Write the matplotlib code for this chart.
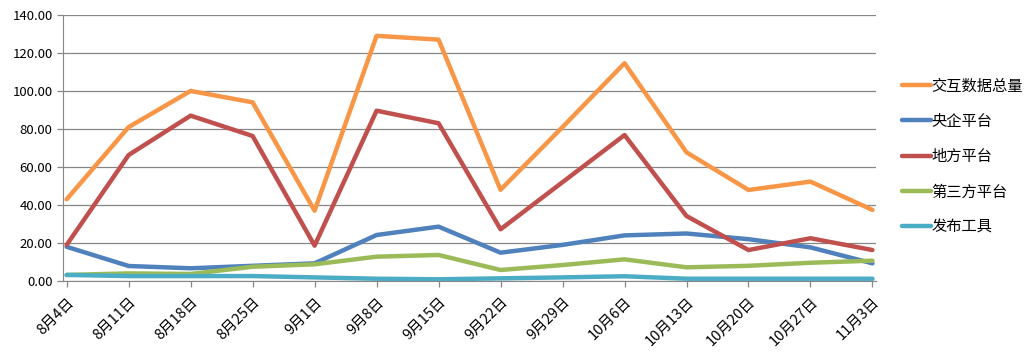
import matplotlib
matplotlib.use("Agg")
import matplotlib.pyplot as plt

plt.rcParams['font.family'] = ['Noto Sans CJK SC', 'DejaVu Sans']

weeks = ['8月4日', '8月11日', '8月18日', '8月25日', '9月1日', '9月8日', '9月15日',
         '9月22日', '9月29日', '10月6日', '10月13日', '10月20日', '10月27日', '11月3日']

total = [43, 81, 100, 94, 37, 129, 127, 48, 81, 114.6, 67.7, 47.9, 52.3, 37.4]
central = [18, 7.9, 6.7, 8, 9.3, 24.2, 28.6, 14.9, 19, 24, 25, 22, 17.7, 9.3]
local = [19, 66.3, 87, 76.3, 18.6, 89.6, 83, 27.2, 52, 76.8, 34.2, 16.3, 22.5, 16.3]
third = [3.2, 4, 3.7, 7.5, 8.8, 12.8, 13.7, 5.8, 8.4, 11.4, 7.2, 8, 9.6, 10.7]
tools = [3.2, 2.6, 2.6, 2.6, 1.9, 1.2, 0.9, 1.4, 1.9, 2.5, 1.2, 1.2, 1.2, 1.2]

series = [
    ('交互数据总量', total, '#F79646'),
    ('央企平台', central, '#4F81BD'),
    ('地方平台', local, '#C0504D'),
    ('第三方平台', third, '#9BBB59'),
    ('发布工具', tools, '#4BACC6'),
]

fig = plt.figure(figsize=(10.32, 3.64), dpi=100)
ax = fig.add_axes([0.061, 0.228, 0.788, 0.731])

x = range(len(weeks))
for name, vals, col in series:
    ax.plot(x, vals, color=col, lw=3.2, label=name, solid_capstyle='round', solid_joinstyle='round')

ax.set_ylim(0, 140)
ax.set_yticks(range(0, 141, 20))
ax.set_yticklabels(['%.2f' % v for v in range(0, 141, 20)], fontsize=9.5)
ax.set_xlim(-0.06, 13.06)
ax.set_xticks(list(x))
ax.set_xticklabels(weeks, rotation=45, ha='right', rotation_mode='anchor', fontsize=10.5)
ax.tick_params(axis='x', pad=6)

ax.grid(axis='y', color='#878787', lw=0.9)
ax.set_axisbelow(True)
for s in ['top', 'right']:
    ax.spines[s].set_visible(False)
for s in ['left', 'bottom']:
    ax.spines[s].set_color('#878787')
ax.tick_params(axis='both', color='#878787', length=4, width=0.9)

fig.legend(loc='center left', bbox_to_anchor=(0.868, 0.57), frameon=False,
           fontsize=11, handlelength=1.9, handletextpad=0.05, labelspacing=1.2,
           borderaxespad=0)

fig.savefig('out.png', dpi=100)
